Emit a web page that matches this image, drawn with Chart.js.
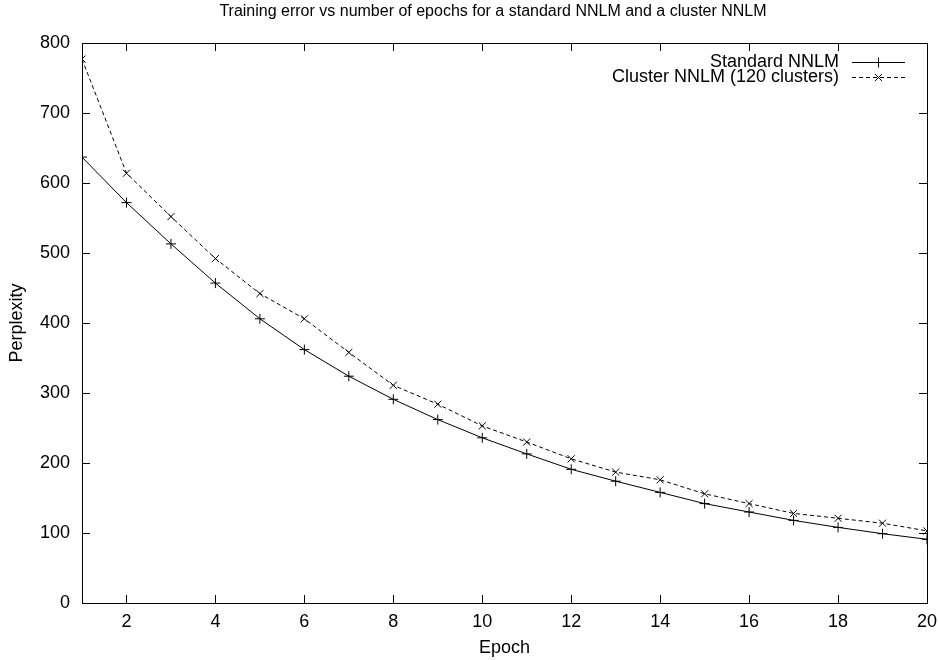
<!DOCTYPE html>
<html>
<head>
<meta charset="utf-8">
<script src="https://cdn.jsdelivr.net/npm/chart.js@4.4.1/dist/chart.umd.min.js"></script>
<style>
  html, body { margin:0; padding:0; background:#fff; }
  #wrap { width:938px; height:660px; }
</style>
</head>
<body>
<div id="wrap"><canvas id="c" width="938" height="660"></canvas></div>
<script>
// ---- datos ----
const epochs   = [1,2,3,4,5,6,7,8,9,10,11,12,13,14,15,16,17,18,19,20];
const standard = [637,572,513,457,406,362,324,291,262,236,213,191,174,158,142,130,118,108,99,91];
const cluster  = [777,614,552,492,442,406,358,311,284,253,230,206,187,176,156,142,128,121,114,103];
const xTicks   = [2,4,6,8,10,12,14,16,18,20];
const yTicks   = [0,100,200,300,400,500,600,700,800];
const seriesNames = ['Standard NNLM', 'Cluster NNLM (120 clusters)'];
const titleText = 'Training error vs number of epochs for a standard NNLM and a cluster NNLM';

const FONT = '"Liberation Sans", Arial, Helvetica, sans-serif';

// marco + marcas de escala hacia dentro (estilo gnuplot), leyenda y título
const gnuplotFrame = {
  id: 'gnuplotFrame',
  afterDraw(chart){
    const { ctx, chartArea: a, scales: { x, y } } = chart;
    ctx.save();
    ctx.strokeStyle = '#000'; ctx.lineWidth = 1;
    ctx.strokeRect(a.left + 0.5, a.top + 0.5, a.right - a.left, a.bottom - a.top);
    ctx.beginPath();
    const tl = 8;
    for (const v of xTicks){
      const px = Math.round(x.getPixelForValue(v)) + 0.5;
      ctx.moveTo(px, a.bottom); ctx.lineTo(px, a.bottom - tl);
      ctx.moveTo(px, a.top);    ctx.lineTo(px, a.top + tl);
    }
    for (const v of yTicks){
      const py = Math.round(y.getPixelForValue(v)) + 0.5;
      ctx.moveTo(a.left, py);  ctx.lineTo(a.left + tl, py);
      ctx.moveTo(a.right, py); ctx.lineTo(a.right - tl, py);
    }
    ctx.stroke();

    // título
    ctx.fillStyle = '#000';
    ctx.font = `16px ${FONT}`;
    ctx.textAlign = 'center'; ctx.textBaseline = 'middle';
    ctx.fillText(titleText, 493, 12);

    // leyenda
    ctx.font = `18px ${FONT}`;
    ctx.textAlign = 'right';
    const rows = [
      { name: seriesNames[0], y: 62, dash: [], style: 'cross' },
      { name: seriesNames[1], y: 77, dash: [4,3], style: 'crossRot' }
    ];
    for (const r of rows){
      ctx.fillText(r.name, 839, r.y);
      ctx.setLineDash(r.dash);
      ctx.beginPath(); ctx.moveTo(852, r.y + 0.5); ctx.lineTo(905, r.y + 0.5); ctx.stroke();
      ctx.setLineDash([]);
      Chart.helpers.drawPoint(ctx, { pointStyle: r.style, radius: 5, borderWidth: 1 }, 878.5, r.y + 0.5);
    }
    ctx.restore();
  }
};

new Chart(document.getElementById('c'), {
  type: 'line',
  data: {
    datasets: [
      { label: seriesNames[0], data: epochs.map((e,i)=>({ x:e, y:standard[i] })),
        borderColor:'#000', backgroundColor:'#000', borderWidth:1,
        pointStyle:'cross', pointRadius:5, pointBorderWidth:1, tension:0 },
      { label: seriesNames[1], data: epochs.map((e,i)=>({ x:e, y:cluster[i] })),
        borderColor:'#000', backgroundColor:'#000', borderWidth:1, borderDash:[4,3],
        pointStyle:'crossRot', pointRadius:5, pointBorderWidth:1, tension:0 }
    ]
  },
  options: {
    responsive:false, animation:false, parsing:false,
    layout:{ padding:{ top:43, right:11, left:0, bottom:0 } },
    plugins:{ legend:{ display:false }, tooltip:{ enabled:false }, title:{ display:false } },
    scales:{
      x:{ type:'linear', min:1, max:20,
          afterBuildTicks: s => { s.ticks = xTicks.map(v => ({ value:v })); },
          afterFit: s => { s.height = 57; s.paddingLeft = 0; s.paddingRight = 0; },
          grid:{ display:false, drawTicks:false }, border:{ display:false },
          ticks:{ color:'#000', padding:8, font:{ family:FONT, size:18 }, maxRotation:0 },
          title:{ display:true, text:'Epoch', color:'#000', font:{ family:FONT, size:18 }, padding:{ top:0, bottom:1 } } },
      y:{ min:0, max:800,
          afterBuildTicks: s => { s.ticks = yTicks.map(v => ({ value:v })); },
          afterFit: s => { s.width = 82; s.paddingTop = 0; s.paddingBottom = 0; },
          grid:{ display:false, drawTicks:false }, border:{ display:false },
          ticks:{ color:'#000', padding:12, font:{ family:FONT, size:18 } },
          title:{ display:true, text:'Perplexity', color:'#000', font:{ family:FONT, size:18 }, padding:{ top:6, bottom:0 } } }
    }
  },
  plugins:[gnuplotFrame]
});
</script>
</body>
</html>
